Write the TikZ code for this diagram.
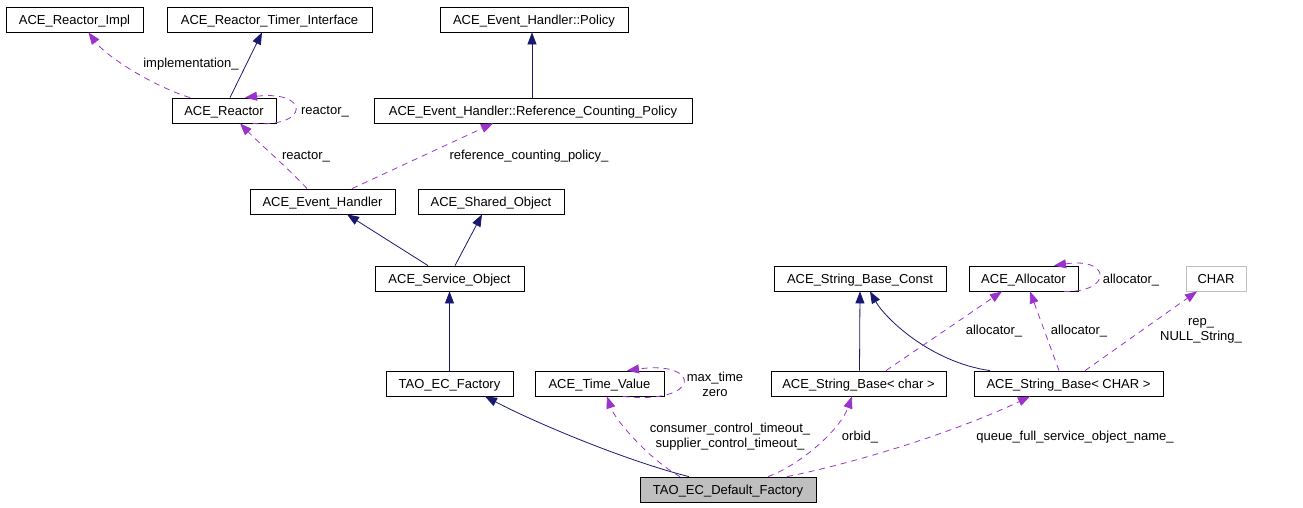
\documentclass[tikz,border=0pt]{standalone}
\usepackage{fontspec}
\setmainfont{Liberation Sans}
\usetikzlibrary{arrows.meta}
\definecolor{inhcol}{HTML}{191970}
\definecolor{usecol}{HTML}{9A32CD}
\definecolor{boxgrey}{HTML}{BFBFBF}
\begin{document}
\begin{tikzpicture}[x=1pt,y=-1pt,
  cls/.style={draw=black, line width=0.8pt, minimum height=25pt, inner sep=0pt, text height=11pt, text depth=1.7pt, font=\fontsize{13}{15}\selectfont},
  lbl/.style={font=\fontsize{13}{14}\selectfont, align=center, inner sep=0pt, text height=11pt, text depth=1.7pt},
  lbltwo/.style={font=\fontsize{13}{15}\selectfont, align=center, inner sep=0pt},
  inh/.style={draw=inhcol, line width=0.8pt, -{Triangle[length=12pt,width=9pt,fill=inhcol]}},
  use/.style={draw=usecol, line width=0.8pt, dash pattern=on 6pt off 5pt, -{Triangle[length=12pt,width=9pt,fill=usecol]}},
]
\useasboundingbox (0,0) rectangle (1303,507);
% nodes
\node[cls, minimum width=137pt] (impl) at (74.5,19.5) {ACE\_Reactor\_Impl};
\node[cls, minimum width=205pt] (timer) at (269.5,19.5) {ACE\_Reactor\_Timer\_Interface};
\node[cls, minimum width=188pt] (policy) at (534,19.5) {ACE\_Event\_Handler::Policy};
\node[cls, minimum width=104pt] (reactor) at (224,110.5) {ACE\_Reactor};
\node[cls, minimum width=318pt] (rcp) at (533,110.5) {ACE\_Event\_Handler::Reference\_Counting\_Policy};
\node[cls, minimum width=145pt] (eh) at (322.5,201.5) {ACE\_Event\_Handler};
\node[cls, minimum width=146pt] (shared) at (491,201.5) {ACE\_Shared\_Object};
\node[cls, minimum width=149pt] (so) at (449.5,278.5) {ACE\_Service\_Object};
\node[cls, minimum width=172pt] (const) at (860,278.5) {ACE\_String\_Base\_Const};
\node[cls, minimum width=109pt] (alloc) at (1023.5,278.5) {ACE\_Allocator};
\node[cls, draw=boxgrey, minimum width=60pt] (char) at (1216,278.5) {CHAR};
\node[cls, minimum width=127pt] (tecf) at (449.5,383.5) {TAO\_EC\_Factory};
\node[cls, minimum width=129pt] (tv) at (599.5,383.5) {ACE\_Time\_Value};
\node[cls, minimum width=175pt] (sbc) at (858.5,383.5) {ACE\_String\_Base< char >};
\node[cls, minimum width=189pt] (sbC) at (1068.5,383.5) {ACE\_String\_Base< CHAR >};
\node[cls, fill=boxgrey, minimum width=176pt] (def) at (728,489.5) {TAO\_EC\_Default\_Factory};
% edges row 1-2
\draw[use] ([xshift=-34pt]reactor.north) .. controls (150,85) and (105,55) .. ([xshift=14pt]impl.south);
\node[lbl] (limpl) at (191,63) {implementation\_};
\draw[inh] ([xshift=6pt]reactor.north) -- ([xshift=-7.5pt]timer.south);
\draw[use] ([xshift=29pt]reactor.south) .. controls (310,128) and (310,90) .. ([xshift=21pt]reactor.north);
\node[lbl] (lreact1) at (325,110) {reactor\_};
\draw[inh] ([xshift=-1pt]rcp.north) -- ([xshift=-2pt]policy.south);
% row 3
\draw[use] ([xshift=-15.5pt]eh.north) .. controls (292,172) and (258,142) .. ([xshift=16pt]reactor.south);
\node[lbl] (lreact2) at (306,155) {reactor\_};
\draw[use] ([xshift=29.5pt]eh.north) -- ([xshift=-40pt]rcp.south);
\node[lbl] (lrcp) at (529,155) {reference\_counting\_policy\_};
\draw[inh] ([xshift=-21.5pt]so.north) -- ([xshift=24.5pt]eh.south);
\draw[inh] ([xshift=5.5pt]so.north) -- ([xshift=-9pt]shared.south);
\draw[inh] (tecf.north) -- (so.south);
% bottom
\draw[inh] ([xshift=-39pt]def.north) .. controls (630,462) and (540,425) .. ([xshift=35.5pt]tecf.south);
\draw[use] ([xshift=-48pt]def.north) .. controls (650,460) and (615,420) .. ([xshift=7.5pt]tv.south);
\node[lbltwo] (ltimeout) at (730,437) {consumer\_control\_timeout\_\\supplier\_control\_timeout\_};
\draw[use] ([xshift=23.5pt]tv.south) .. controls (702,405) and (702,360) .. ([xshift=27.5pt]tv.north);
\node[lbltwo] (lmax) at (715,384) {max\_time\\zero};
\draw[use] ([xshift=40pt]def.north) .. controls (800,465) and (840,430) .. ([xshift=-6.5pt]sbc.south);
\node[lbl] (lorb) at (860,436) {orbid\_};
\draw[use] ([xshift=59pt]def.north) .. controls (860,462) and (960,430) .. ([xshift=-38.5pt]sbC.south);
\node[lbl] (lqueue) at (1075,436) {queue\_full\_service\_object\_name\_};
% string bases
\draw[inh] ([xshift=1pt]sbc.north) -- (const.south);
\draw[inh] ([xshift=-78.5pt]sbC.north) .. controls (930,362) and (885,318) .. ([xshift=10pt]const.south);
\draw[use] ([xshift=27.5pt]sbc.north) -- ([xshift=-21.5pt]alloc.south);
\node[lbl] (lall1) at (994,330) {allocator\_};
\draw[use] ([xshift=-9.5pt]sbC.north) -- ([xshift=6.5pt]alloc.south);
\node[lbl] (lall2) at (1079,330) {allocator\_};
\draw[use] ([xshift=40.5pt]alloc.south) .. controls (1112,293) and (1112,257) .. ([xshift=30.5pt]alloc.north);
\node[lbl] (lall3) at (1131,279) {allocator\_};
\draw[use] ([xshift=16.5pt]sbC.north) -- ([xshift=-19pt]char.south);
\node[lbltwo] (lrep) at (1201,331) {rep\_\\NULL\_String\_};
\end{tikzpicture}
\end{document}
